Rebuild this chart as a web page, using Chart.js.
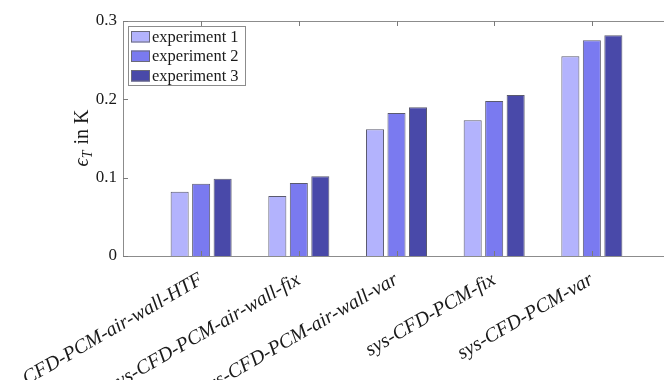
<!DOCTYPE html>
<html>
<head>
<meta charset="utf-8">
<script src="https://cdn.jsdelivr.net/npm/chart.js@4.4.1/dist/chart.umd.min.js"></script>
<style>
  html, body { margin: 0; padding: 0; background: #fff; overflow: hidden; }
  #wrap { width: 700px; height: 380px; }
</style>
</head>
<body>
<div id="wrap"><canvas id="c" width="700" height="380"></canvas></div>
<script>
const categories = [
  'sys-CFD-PCM-air-wall-HTF',
  'sys-CFD-PCM-air-wall-fix',
  'sys-CFD-PCM-air-wall-var',
  'sys-CFD-PCM-fix',
  'sys-CFD-PCM-var'
];
const seriesNames = ['experiment 1', 'experiment 2', 'experiment 3'];
const experiment1 = [0.082, 0.0766, 0.1617, 0.1732, 0.2549];
const experiment2 = [0.0923, 0.0932, 0.1826, 0.1979, 0.2754];
const experiment3 = [0.0987, 0.1017, 0.1898, 0.2055, 0.2817];
const yTicks = [0, 0.1, 0.2, 0.3];

const colors = ['#b3b3fd', '#7a7af0', '#4949a9'];
const serif = '"Liberation Serif", "Times New Roman", serif';

function toPoints(arr) { return arr.map((v, i) => ({ x: i + 1, y: v })); }
function catTicks(axis) { axis.ticks = categories.map((c, i) => ({ value: i + 1 })); }

const frame = {
  id: 'frame',
  afterDatasetsDraw(chart) {
    const { ctx, chartArea: a, scales } = chart;
    const x = scales.x, y = scales.y;
    ctx.save();
    ctx.strokeStyle = '#8c8c8c';
    ctx.lineWidth = 1;
    ctx.beginPath();
    ctx.moveTo(a.left, Math.round(a.top) + 0.5);
    ctx.lineTo(a.right, Math.round(a.top) + 0.5);
    ctx.moveTo(Math.round(a.right) - 0.5, a.top);
    ctx.lineTo(Math.round(a.right) - 0.5, a.bottom);
    ctx.stroke();
    ctx.strokeStyle = '#7a7a7a';
    ctx.beginPath();
    categories.forEach((c, i) => {
      const px = Math.round(x.getPixelForValue(i + 1)) + 0.5;
      ctx.moveTo(px, a.bottom); ctx.lineTo(px, a.bottom - 5);
      ctx.moveTo(px, a.top); ctx.lineTo(px, a.top + 5);
    });
    yTicks.forEach(t => {
      const py = Math.round(y.getPixelForValue(t)) + 0.5;
      ctx.moveTo(a.left, py); ctx.lineTo(a.left + 5, py);
      ctx.moveTo(a.right, py); ctx.lineTo(a.right - 5, py);
    });
    ctx.stroke();
    ctx.restore();
  },
  afterDraw(chart) {
    const { ctx, chartArea: a } = chart;
    ctx.save();
    const bx = a.left + 5, by = a.top + 5, bw = 117, bh = 59;
    ctx.fillStyle = '#fff';
    ctx.fillRect(bx, by, bw, bh);
    ctx.strokeStyle = '#8c8c8c';
    ctx.lineWidth = 1;
    ctx.strokeRect(Math.round(bx) + 0.5, Math.round(by) + 0.5, bw, bh);
    ctx.font = '16.5px ' + serif;
    ctx.textBaseline = 'alphabetic';
    chart.data.datasets.forEach((ds, i) => {
      const ry = by + 5 + i * 19.5;
      ctx.fillStyle = ds.backgroundColor;
      ctx.fillRect(bx + 3, ry, 19, 11.5);
      ctx.strokeStyle = '#6a6a7a';
      ctx.strokeRect(bx + 3.5, ry + 0.5, 18, 10.5);
      ctx.fillStyle = '#1a1a1a';
      ctx.fillText(ds.label, bx + 24, ry + 10.5);
    });
    const cy = (a.top + a.bottom) / 2;
    ctx.translate(88, cy);
    ctx.rotate(-Math.PI / 2);
    const fMain = 'italic 20px ' + serif;
    const fSub = 'italic 14px ' + serif;
    const fUp = '20px ' + serif;
    ctx.font = fMain; const w1 = ctx.measureText('\u03F5').width;
    ctx.font = fSub; const w2 = ctx.measureText('T').width;
    ctx.font = fUp; const w3 = ctx.measureText(' in K').width;
    let sx = -(w1 + w2 + w3) / 2;
    ctx.fillStyle = '#1a1a1a';
    ctx.font = fMain; ctx.fillText('\u03F5', sx, 0); sx += w1;
    ctx.font = fSub; ctx.fillText('T', sx, 4); sx += w2 + 1;
    ctx.font = fUp; ctx.fillText(' in K', sx, 0);
    ctx.restore();
  }
};

const ctx = document.getElementById('c').getContext('2d');
new Chart(ctx, {
  type: 'bar',
  data: {
    datasets: [experiment1, experiment2, experiment3].map((arr, i) => ({
      label: seriesNames[i],
      data: toPoints(arr),
      backgroundColor: colors[i],
      borderColor: '#5a5a6e',
      borderWidth: 1,
      categoryPercentage: 0.66,
      barPercentage: 0.84,
      xAxisID: 'x',
      yAxisID: 'y'
    }))
  },
  options: {
    responsive: false,
    animation: false,
    devicePixelRatio: 1,
    layout: { padding: { top: 21, right: 30, left: 0, bottom: 0 } },
    plugins: { legend: { display: false }, tooltip: { enabled: false } },
    scales: {
      x: {
        type: 'linear', display: false, min: 0.2, max: 5.8, offset: false,
        afterBuildTicks: catTicks,
        grid: { display: false }
      },
      x2: {
        type: 'linear', position: 'bottom', min: 0.2, max: 5.8, offset: false,
        afterBuildTicks: catTicks,
        afterFit: s => { s.height = 124; s.paddingLeft = 0; s.paddingRight = 0; },
        grid: { display: false, drawTicks: false },
        border: { display: true, color: '#8c8c8c', width: 1 },
        ticks: {
          autoSkip: false, minRotation: 30, maxRotation: 30, padding: 12,
          color: '#1a1a1a',
          font: { family: serif, size: 20, style: 'italic' },
          callback: v => categories[Math.round(v) - 1] || ''
        }
      },
      y: {
        min: 0, max: 0.3,
        afterBuildTicks: axis => { axis.ticks = yTicks.map(v => ({ value: v })); },
        afterFit: s => { s.width = 123; s.paddingTop = 0; s.paddingBottom = 0; },
        grid: { display: false, drawTicks: false },
        border: { display: true, color: '#8c8c8c', width: 1 },
        ticks: {
          padding: 6, color: '#1a1a1a',
          font: { family: serif, size: 17 },
          callback: v => String(Math.round(v * 10) / 10)
        }
      }
    }
  },
  plugins: [frame]
});
</script>
</body>
</html>
